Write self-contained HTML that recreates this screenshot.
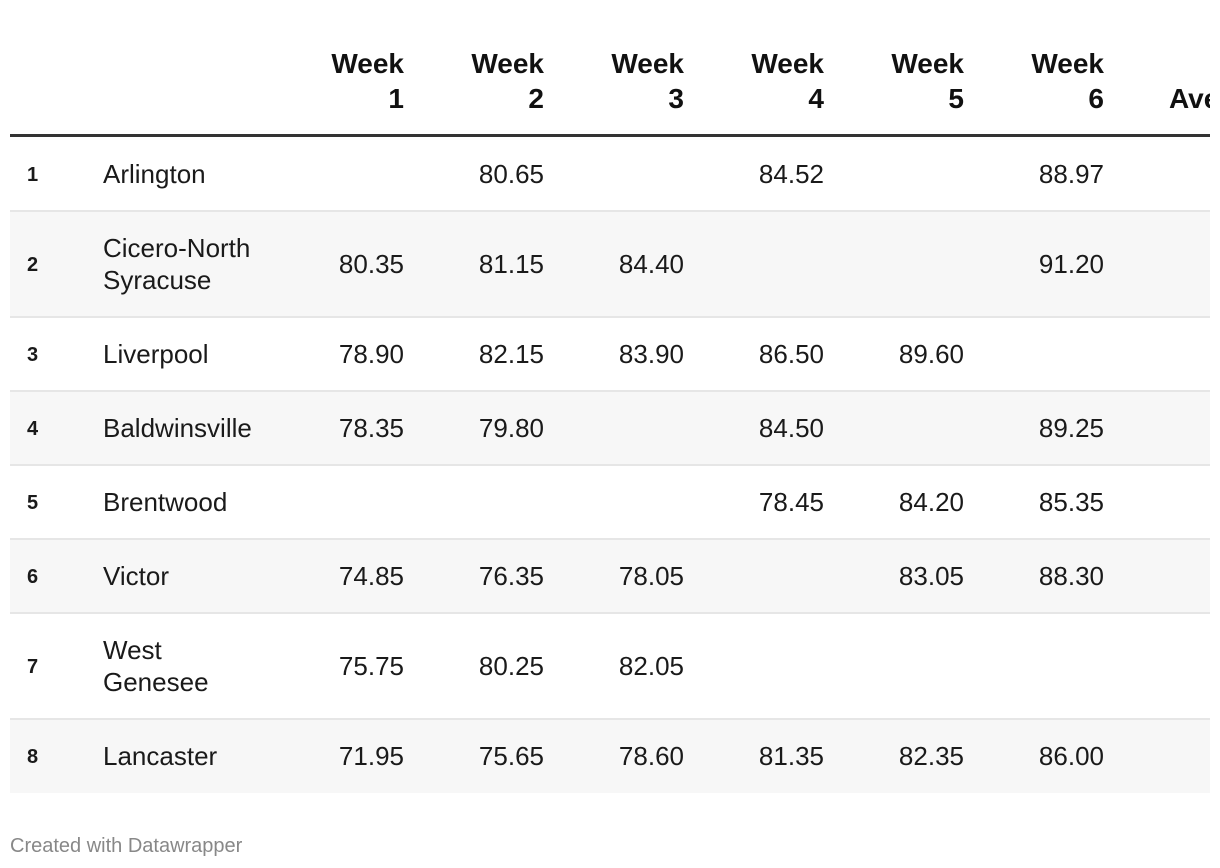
<!DOCTYPE html>
<html><head><meta charset="utf-8"><style>
body{margin:0;width:1220px;height:868px;background:#fff;overflow:hidden;font-family:"Liberation Sans",sans-serif;color:#1a1a1a;position:relative}
#tbl{position:absolute;left:10px;top:0;width:1200px;height:800px;overflow:hidden}
.abs{position:absolute;white-space:nowrap}
.hd{font-weight:bold;font-size:28px;line-height:35px;text-align:right;color:#111}
.row{position:absolute;left:0;width:1200px}
.cell{position:absolute;font-size:26px;line-height:32px;transform:translateY(-50%)}
.rank{font-weight:bold;font-size:20px}
#foot{position:absolute;left:10px;top:835px;font-size:20px;color:#888}
</style></head><body>
<div id="tbl"></div>
<div id="foot">Created with Datawrapper</div>
<script>
const names=["Arlington","Cicero-North<br>Syracuse","Liverpool","Baldwinsville","Brentwood","Victor","West<br>Genesee","Lancaster"];
const week1=["","80.35","78.90","78.35","","74.85","75.75","71.95"];
const week2=["80.65","81.15","82.15","79.80","","76.35","80.25","75.65"];
const week3=["","84.40","83.90","","","78.05","82.05","78.60"];
const week4=["84.52","","86.50","84.50","78.45","","","81.35"];
const week5=["","","89.60","","84.20","83.05","","82.35"];
const week6=["88.97","91.20","","89.25","85.35","88.30","","86.00"];
const weeks=[week1,week2,week3,week4,week5,week6];
const headers=["Week<br>1","Week<br>2","Week<br>3","Week<br>4","Week<br>5","Week<br>6"];
const bounds=[137,211,317,391,465,539,613,719,792];
const t=document.getElementById('tbl');
headers.forEach((h,i)=>{
  const d=document.createElement('div');d.className='abs hd';
  
  
  d.style.right=(1200-(394+140*i))+'px';d.style.top='46px';d.innerHTML=h;t.appendChild(d);
});
const av=document.createElement('div');av.className='abs hd';


av.style.left='1159px';av.style.top='81px';av.textContent='Average';t.appendChild(av);
const hl=document.createElement('div');hl.className='abs';


hl.style.cssText='left:0;top:134px;width:1200px;height:3px;background:#333';t.appendChild(hl);
names.forEach((n,r)=>{
  const top=bounds[r],h=bounds[r+1]-top;
  const row=document.createElement('div');row.className='row';
  
  
  row.style.top=top+'px';row.style.height=h+'px';
  row.style.background=r%2?'#f7f7f7':'#fff';
  if(r>0)row.style.borderTop='2px solid #e6e6e6';
  if(r>0){row.style.top=(top-1)+'px';}
  t.appendChild(row);
  const mid=h/2+(r>0?-1:0);
  const rk=document.createElement('div');rk.className='cell rank';
  
  
  rk.style.left='17px';rk.style.top=(mid+1)+'px';rk.textContent=r+1;row.appendChild(rk);
  const nm=document.createElement('div');nm.className='cell';
  
  
  nm.style.left='93px';nm.style.top=mid+'px';nm.innerHTML=n;row.appendChild(nm);
  weeks.forEach((w,i)=>{
    if(!w[r])return;
    const c=document.createElement('div');c.className='cell';
    
    
    c.style.right=(1200-(394+140*i))+'px';c.style.top=mid+'px';c.textContent=w[r];row.appendChild(c);
  });
});
</script>
</body></html>
